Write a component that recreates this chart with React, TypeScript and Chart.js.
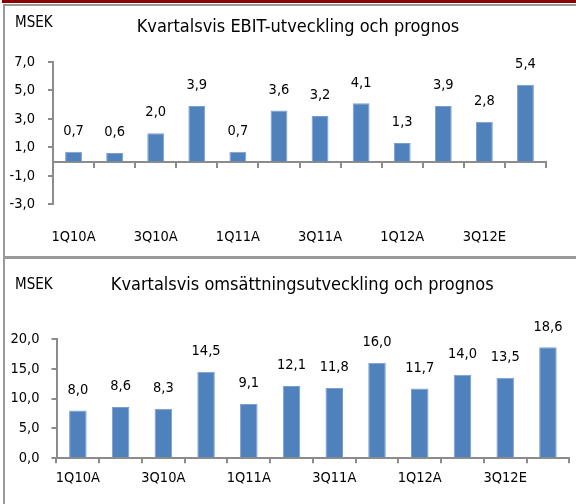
import React, { useEffect, useRef } from 'react';
import { Chart, registerables } from 'chart.js';

Chart.register(...registerables);

// ---- data ----
const quarters = ['1Q10A', '2Q10A', '3Q10A', '4Q10A', '1Q11A', '2Q11A', '3Q11A', '4Q11A', '1Q12A', '2Q12A', '3Q12E', '4Q12E'];
const ebitValues = [0.7, 0.6, 2.0, 3.9, 0.7, 3.6, 3.2, 4.1, 1.3, 3.9, 2.8, 5.4];
const salesValues = [8.0, 8.6, 8.3, 14.5, 9.1, 12.1, 11.8, 16.0, 11.7, 14.0, 13.5, 18.6];
const ebitTicks = [-3, -1, 1, 3, 5, 7];
const salesTicks = [0, 5, 10, 15, 20];
const unitLabel = 'MSEK';
const ebitTitle = 'Kvartalsvis EBIT-utveckling och prognos';
const salesTitle = 'Kvartalsvis omsättningsutveckling och prognos';

// ---- style ----
const FONT = "'DejaVu Sans Condensed', 'DejaVu Sans', sans-serif";
const AXIS = '#8c8c8c';
const BAR = '#4F81BD';
const CANVAS_W = 571;

const fmt = (v: number) => v.toFixed(1).replace('.', ',');

type Spec = {
  values: number[];
  ticks: number[];
  title: string;
  height: number;
  area: { left: number; right: number; top: number; bottom: number };
  yPad: number;
  xLabelPad: number;
  split: boolean;
  unitX: number;
  unitY: number;
  titleX: number;
  titleY: number;
  labelGap: number;
};

const headerPlugin = {
  id: 'header',
  afterDraw(chart: any, _args: any, opts: any) {
    const ctx = chart.ctx;
    ctx.save();
    ctx.fillStyle = '#000';
    ctx.textBaseline = 'alphabetic';
    ctx.font = `${opts.unitSize}px ${FONT}`;
    ctx.textAlign = 'left';
    ctx.fillText(opts.unit, opts.unitX, opts.unitY);
    ctx.font = `${opts.titleSize}px ${FONT}`;
    ctx.textAlign = 'center';
    ctx.fillText(opts.title, opts.titleX, opts.titleY);
    const meta = chart.getDatasetMeta(0);
    const vals = chart.data.datasets[0].data as number[];
    ctx.font = `${opts.labelSize}px ${FONT}`;
    ctx.textBaseline = 'middle';
    meta.data.forEach((bar: any, i: number) => {
      ctx.fillText(fmt(vals[i]), bar.x, bar.y - opts.labelGap);
    });
    ctx.restore();
  },
};

function buildChart(canvas: HTMLCanvasElement, spec: Spec) {
  const tickFont = { family: FONT, size: 14.5 };
  const labelTicks = {
    autoSkip: false,
    maxRotation: 0,
    minRotation: 0,
    color: '#000',
    font: tickFont,
    padding: spec.xLabelPad,
    callback: (_v: any, i: number) => (i % 2 === 0 ? quarters[i] : ''),
  };
  const scales: any = {
    y: {
      type: 'linear',
      min: spec.ticks[0],
      max: spec.ticks[spec.ticks.length - 1],
      afterBuildTicks: (s: any) => {
        s.ticks = spec.ticks.map((v) => ({ value: v }));
      },
      afterFit: (s: any) => {
        s.width = spec.area.left;
      },
      grid: { display: true, drawOnChartArea: false, drawTicks: true, tickLength: 5, color: AXIS, lineWidth: 2 },
      border: { display: true, color: AXIS, width: 2 },
      ticks: { callback: (v: any) => fmt(Number(v)), padding: spec.yPad, color: '#000', font: tickFont },
    },
  };
  if (spec.split) {
    scales.x = {
      type: 'category',
      position: { y: 0 },
      offset: true,
      grid: { offset: true, drawOnChartArea: false, drawTicks: true, tickLength: 5, color: AXIS, lineWidth: 2 },
      border: { display: true, color: AXIS, width: 2 },
      ticks: { display: false },
    };
    scales.xl = {
      type: 'category',
      axis: 'x',
      position: 'bottom',
      offset: true,
      grid: { display: false, drawTicks: false },
      border: { display: false },
      ticks: labelTicks,
      afterFit: (s: any) => {
        s.height = spec.height - spec.area.bottom;
      },
    };
  } else {
    scales.x = {
      type: 'category',
      position: 'bottom',
      offset: true,
      grid: { offset: true, drawOnChartArea: false, drawTicks: true, tickLength: 5, color: AXIS, lineWidth: 2 },
      border: { display: true, color: AXIS, width: 2 },
      ticks: labelTicks,
      afterFit: (s: any) => {
        s.height = spec.height - spec.area.bottom;
      },
    };
  }
  return new Chart(canvas, {
    type: 'bar',
    data: {
      labels: quarters,
      datasets: [
        {
          data: spec.values,
          backgroundColor: BAR,
          borderColor: '#7b9fcc',
          borderWidth: 1,
          barPercentage: 0.41,
          categoryPercentage: 1,
        },
      ],
    },
    options: {
      responsive: false,
      animation: false,
      devicePixelRatio: 1,
      layout: { padding: { left: 0, right: CANVAS_W - spec.area.right, top: spec.area.top, bottom: 0 } },
      scales,
      plugins: {
        legend: { display: false },
        tooltip: { enabled: false },
        header: {
          unit: unitLabel,
          unitSize: 15,
          unitX: spec.unitX,
          unitY: spec.unitY,
          title: spec.title,
          titleSize: 18,
          titleX: spec.titleX,
          titleY: spec.titleY,
          labelSize: 14.5,
          labelGap: spec.labelGap,
        },
      } as any,
    },
    plugins: [headerPlugin as any],
  });
}

function BarPanel({ spec, left, top }: { spec: Spec; left: number; top: number }) {
  const ref = useRef<HTMLCanvasElement | null>(null);
  useEffect(() => {
    if (!ref.current) return;
    const chart = buildChart(ref.current, spec);
    return () => chart.destroy();
  }, [spec]);
  return (
    <canvas
      ref={ref}
      width={CANVAS_W}
      height={spec.height}
      style={{ position: 'absolute', left, top, width: CANVAS_W, height: spec.height }}
    />
  );
}

const ebitSpec: Spec = {
  values: ebitValues,
  ticks: ebitTicks,
  title: ebitTitle,
  height: 250,
  area: { left: 48, right: 541, top: 56, bottom: 198.3 },
  yPad: 13,
  xLabelPad: 24,
  split: true,
  unitX: 10,
  unitY: 20.7,
  titleX: 293,
  titleY: 26.3,
  labelGap: 20.5,
};

const salesSpec: Spec = {
  values: salesValues,
  ticks: salesTicks,
  title: salesTitle,
  height: 245,
  area: { left: 51.5, right: 564.3, top: 80, bottom: 199.3 },
  yPad: 12,
  xLabelPad: 6,
  split: false,
  unitX: 10,
  unitY: 30,
  titleX: 297.2,
  titleY: 31,
  labelGap: 20.5,
};

export default function App() {
  const GRAY = '#999999';
  return (
    <div style={{ position: 'fixed', left: 0, top: 0, width: 576, height: 504, background: '#fff', overflow: 'hidden' }}>
      <div style={{ position: 'absolute', left: 2, top: 0, width: 574, height: 3, background: '#8B0000' }} />
      <div style={{ position: 'absolute', left: 3, top: 4, width: 573, height: 2, background: GRAY }} />
      <div style={{ position: 'absolute', left: 3, top: 4, width: 2, height: 500, background: GRAY }} />
      <div style={{ position: 'absolute', left: 3, top: 256, width: 573, height: 3, background: GRAY }} />
      <BarPanel spec={ebitSpec} left={5} top={6} />
      <BarPanel spec={salesSpec} left={5} top={259} />
    </div>
  );
}
